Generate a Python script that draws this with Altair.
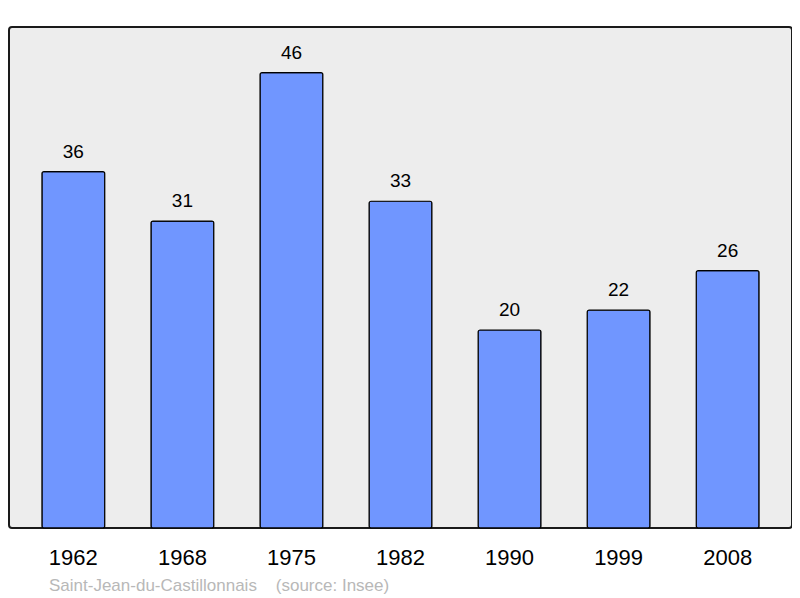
import altair as alt
import pandas as pd

years = ["1962", "1968", "1975", "1982", "1990", "1999", "2008"]
population = [36, 31, 46, 33, 20, 22, 26]
caption = "Saint-Jean-du-Castillonnais\u00a0\u00a0\u00a0\u00a0(source: Insee)"

df = pd.DataFrame({"year": years, "pop": population})

x = alt.X("year:N", sort=years, title=None,
          scale=alt.Scale(paddingInner=0.424, paddingOuter=0.302),
          axis=alt.Axis(labelAngle=0, labelFontSize=22, labelColor="#000000",
                        labelFont="Liberation Sans", ticks=False, domain=False,
                        labelBaseline="alphabetic", labelPadding=36))
y = alt.Y("pop:Q", title=None, scale=alt.Scale(domain=[0, 50.6], nice=False),
          axis=None)

bars = alt.Chart(df).mark_bar(color="#7096ff", stroke="#000000", strokeWidth=1.2,
                              cornerRadius=2).encode(x=x, y=y)
labels = alt.Chart(df).mark_text(fontSize=19, font="Liberation Sans", color="#000000",
                                 baseline="alphabetic", dy=-14).encode(
    x=x, y=y, text="pop:Q")

chart = (bars + labels).properties(
    width=783, height=501,
    autosize=alt.AutoSizeParams(type="none"),
    padding={"left": 1, "top": 19, "right": 0, "bottom": 68},
    title=alt.TitleParams(caption, orient="bottom", anchor="start", dx=40, offset=23,
                          fontSize=17, font="Liberation Sans", color="#b8b8b8",
                          fontWeight="normal", baseline="alphabetic"),
).configure(background="#ffffff").configure_view(
    fill="#ededed", stroke="#1a1a1a", strokeWidth=2, cornerRadius=3
)

chart.save("out.html", embed_options={"renderer": "svg", "actions": False})
